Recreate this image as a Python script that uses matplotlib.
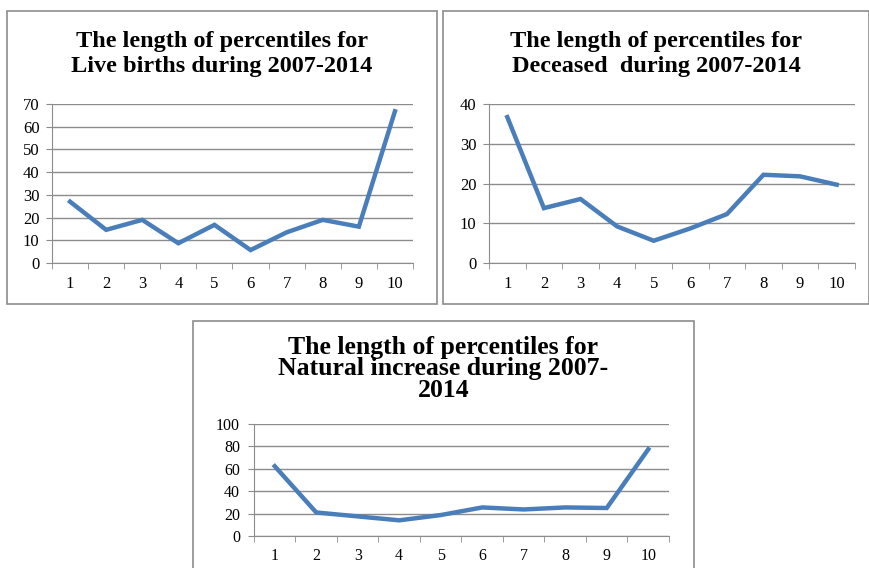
import matplotlib
matplotlib.use("Agg")
import matplotlib.pyplot as plt
from matplotlib.patches import Rectangle

categories = [1, 2, 3, 4, 5, 6, 7, 8, 9, 10]
live_births = [27, 14.6, 19, 8.7, 16.8, 5.7, 13.5, 19, 16, 66.8]
deceased = [36.7, 13.8, 16.1, 9.2, 5.6, 8.7, 12.3, 22.2, 21.8, 19.7]
natural_increase = [62.3, 21, 17.5, 14, 18.7, 25.5, 23.7, 25.5, 25, 77.4]

titles = [
    "The length of percentiles for\nLive births during 2007-2014",
    "The length of percentiles for\nDeceased  during 2007-2014",
    "The length of percentiles for\nNatural increase during 2007-\n2014",
]
yticks_list = [list(range(0, 71, 10)), list(range(0, 41, 10)), list(range(0, 101, 20))]

W, H = 870, 568
fig = plt.figure(figsize=(W / 100, H / 100), dpi=100)
fig.patch.set_facecolor("white")

serif = ["Liberation Serif", "DejaVu Serif"]
LINE = "#4A7EBB"
GRAY = "#8c8c8c"

# panel boxes (pixels): x0, y0(top), x1, y1(bottom)
boxes = [(7, 11, 437, 304), (443, 11, 869, 304), (193, 321, 694, 570)]
# plot areas (pixels): left, top, right, bottom
areas = [(52, 104, 413, 263), (489, 104, 855, 263), (254, 424, 669, 536)]
title_y = [54, 54, 369]
title_size = [17.5, 17.5, 18.5]
title_ls = [1.3, 1.3, 0.92]
tick_size = [12, 12, 11.5]
ytick_pad = [5, 5, 6]

def fx(p):
    return p / W

def fy(p):
    return 1 - p / H

for (bx0, by0, bx1, by1) in boxes:
    fig.patches.append(Rectangle((fx(bx0), fy(by1)), fx(bx1 - bx0), (by1 - by0) / H,
                                 transform=fig.transFigure, fill=False,
                                 edgecolor=GRAY, linewidth=1.2))

data = [live_births, deceased, natural_increase]
for i in range(3):
    l, t, r, b = areas[i]
    ax = fig.add_axes([fx(l), fy(b), fx(r - l), (b - t) / H])
    ax.plot(categories, data[i], color=LINE, linewidth=3.2, solid_joinstyle="miter")
    yt = yticks_list[i]
    ax.set_ylim(yt[0], yt[-1])
    ax.set_xlim(0.5, 10.5)
    ax.set_yticks(yt)
    ax.set_yticklabels([str(v) for v in yt], fontfamily=serif, fontsize=tick_size[i])
    ax.set_xticks(categories)
    ax.set_xticklabels([str(c) for c in categories], fontfamily=serif, fontsize=tick_size[i])
    ax.set_xticks([x + 0.5 for x in range(0, 11)], minor=True)
    ax.tick_params(axis="x", which="major", length=0, pad=9)
    ax.tick_params(axis="x", which="minor", length=4, color=GRAY, direction="out")
    ax.tick_params(axis="y", length=4, color=GRAY, direction="out", pad=ytick_pad[i])
    ax.grid(axis="y", color=GRAY, linewidth=1.0)
    ax.set_axisbelow(True)
    for s in ["top", "right"]:
        ax.spines[s].set_visible(False)
    ax.spines["left"].set_color(GRAY)
    ax.spines["bottom"].set_color(GRAY)
    cx = (boxes[i][0] + boxes[i][2]) / 2
    fig.text(fx(cx), fy(title_y[i]), titles[i], ha="center", va="center",
             fontfamily=serif, fontweight="bold", fontsize=title_size[i],
             linespacing=title_ls[i])

fig.savefig("out.png", dpi=100, facecolor="white")
